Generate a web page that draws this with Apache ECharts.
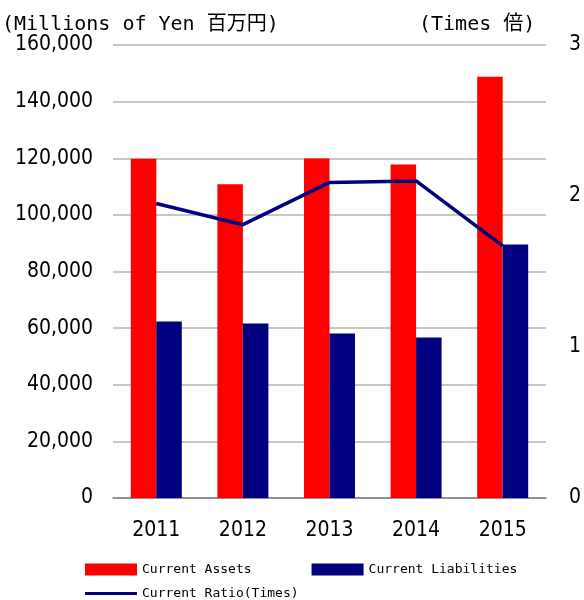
<!DOCTYPE html>
<html>
<head>
<meta charset="utf-8">
<script src="https://cdn.jsdelivr.net/npm/echarts@6/dist/echarts.min.js"></script>
<style>
  html, body { margin: 0; padding: 0; background: #fff; }
  #chart { width: 584px; height: 600px; }
</style>
</head>
<body>
<div id="chart"></div>
<script>
const years = ['2011', '2012', '2013', '2014', '2015']
const currentAssets = [119800, 110800, 119900, 117800, 148800]
const currentLiabilities = [62300, 61600, 58100, 56700, 89500]
const currentRatio = [1.95, 1.81, 2.09, 2.10, 1.67]
const leftTicks = { min: 0, max: 160000, interval: 20000 }
const rightTicks = { min: 0, max: 3, interval: 1 }

const labelFont = '"DejaVu Sans Condensed", sans-serif'
const monoFont = '"DejaVu Sans Mono", "Noto Sans CJK JP", monospace'

const chart = echarts.init(document.getElementById('chart'))

chart.setOption({
  backgroundColor: '#fff',
  animation: false,
  title: [
    {
      text: '(Millions of Yen 百万円)',
      left: -3,
      top: 10,
      textStyle: { fontFamily: monoFont, fontSize: 20, fontWeight: 'normal', color: '#000' }
    },
    {
      text: '(Times 倍)',
      left: 414,
      top: 10,
      textStyle: { fontFamily: monoFont, fontSize: 20, fontWeight: 'normal', color: '#000' }
    }
  ],
  legend: [
    {
      data: ['Current Assets', 'Current Liabilities'],
      left: 80,
      top: 558,
      icon: 'rect',
      itemWidth: 52,
      itemHeight: 12,
      itemGap: 60,
      textStyle: { fontFamily: monoFont, fontSize: 13, color: '#000' }
    },
    {
      data: ['Current Ratio(Times)'],
      left: 80,
      top: 582,
      icon: 'rect',
      itemWidth: 52,
      itemHeight: 3,
      itemStyle: { color: '#000080' },
      textStyle: { fontFamily: monoFont, fontSize: 13, color: '#000' }
    }
  ],
  grid: {
    left: 113,
    right: 36,
    top: 45,
    bottom: 102,
    containLabel: false
  },
  xAxis: {
    type: 'category',
    data: years,
    axisTick: { show: false },
    axisLine: { show: true, lineStyle: { color: '#808080', width: 1.5 } },
    axisLabel: { margin: 22, fontFamily: labelFont, fontSize: 21, color: '#000' }
  },
  yAxis: [
    {
      type: 'value',
      min: leftTicks.min,
      max: leftTicks.max,
      interval: leftTicks.interval,
      axisLine: { show: false },
      axisTick: { show: false },
      splitLine: { lineStyle: { color: '#b4b4b4', width: 1.5 } },
      axisLabel: {
        margin: 20,
        fontFamily: labelFont,
        fontSize: 21,
        color: '#000',
        formatter: v => v.toLocaleString('en-US')
      }
    },
    {
      type: 'value',
      min: rightTicks.min,
      max: rightTicks.max,
      interval: rightTicks.interval,
      axisLine: { show: false },
      axisTick: { show: false },
      splitLine: { show: false },
      axisLabel: { margin: 23, fontFamily: labelFont, fontSize: 21, color: '#000' }
    }
  ],
  series: [
    {
      name: 'Current Assets',
      type: 'bar',
      data: currentAssets,
      barWidth: 25.5,
      barGap: '0%',
      itemStyle: { color: '#ff0000' }
    },
    {
      name: 'Current Liabilities',
      type: 'bar',
      data: currentLiabilities,
      barWidth: 25.5,
      barGap: '0%',
      itemStyle: { color: '#000080' }
    },
    {
      name: 'Current Ratio(Times)',
      type: 'line',
      yAxisIndex: 1,
      data: currentRatio,
      showSymbol: false,
      symbol: 'none',
      lineStyle: { color: '#000080', width: 3.5 },
      itemStyle: { color: '#000080' }
    }
  ]
})
</script>
</body>
</html>
